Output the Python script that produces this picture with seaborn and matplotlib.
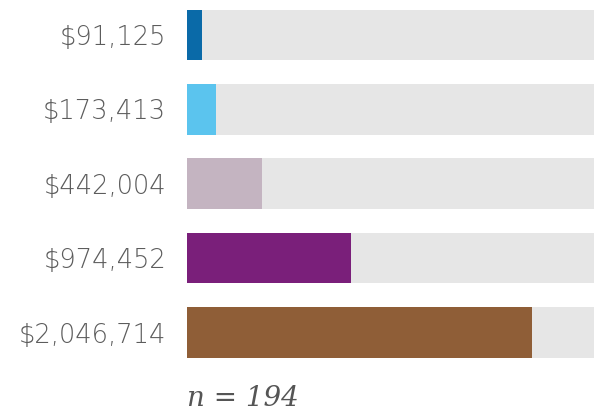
import matplotlib
matplotlib.use("Agg")
import matplotlib.pyplot as plt
import seaborn as sns
import pandas as pd

# Average values per group, smallest to largest
values = [91125, 173413, 442004, 974452, 2046714]
bar_colors = ["#0a6aa8", "#5bc4ee", "#c4b4c1", "#7a1f7a", "#8f5e37"]
sample_note = "n = 194"

labels = [f"${v:,.0f}" for v in values]
track_max = 2.414e6

df = pd.DataFrame({"label": labels, "value": values, "track": [track_max * 1.05] * len(values)})

sns.set_theme(style="white")
fig = plt.figure(figsize=(5.94, 4.19), dpi=100)
ax = fig.add_axes([187 / 594, 1 - 369.8 / 419, 1 - 187 / 594, 369.8 / 419])

# Light grey track behind each bar
sns.barplot(data=df, y="label", x="track", orient="h", color="#e6e6e6",
            width=0.68, ax=ax, saturation=1, linewidth=0)
# Value bars on top
sns.barplot(data=df, y="label", x="value", hue="label", orient="h",
            palette=bar_colors, width=0.68, ax=ax, saturation=1,
            linewidth=0, legend=False)

ax.set_xlim(0, track_max)
ax.set_ylim(4.5, -0.47)
ax.set_xlabel("")
ax.set_ylabel("")
ax.set_xticks([])
for s in ax.spines.values():
    s.set_visible(False)
ax.tick_params(axis="y", length=0, pad=15, labelsize=18.5, labelcolor="#5c5c5c")
for t in ax.get_yticklabels():
    t.set_fontfamily(["DejaVu Sans"])
    t.set_fontweight("light")

fig.text(187 / 594, 1 - 398 / 419, sample_note, ha="left", va="center",
         fontsize=20, fontstyle="italic", color="#555555",
         family=["DejaVu Serif", "Liberation Serif"])

fig.savefig("out.png", dpi=100)
